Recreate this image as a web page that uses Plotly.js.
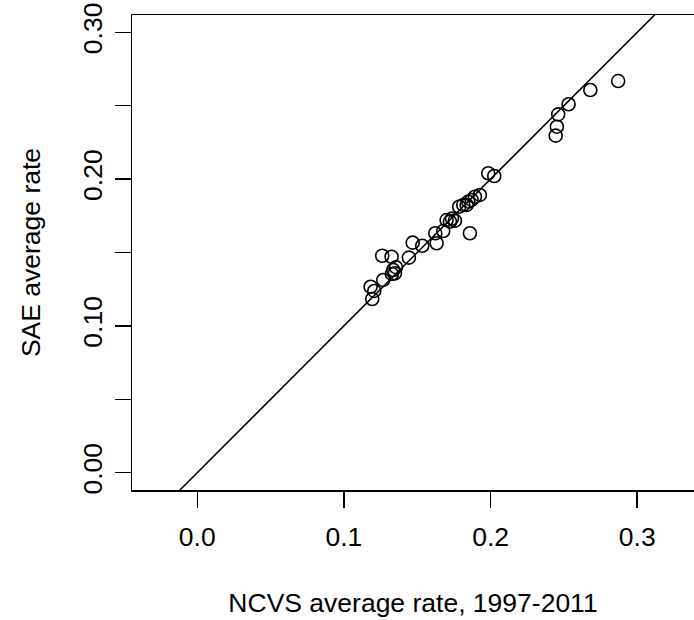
<!DOCTYPE html>
<html>
<head>
<meta charset="utf-8">
<script src="https://cdn.plot.ly/plotly-3.0.1.min.js"></script>
<style>html,body{margin:0;padding:0;background:#fff;}#chart{width:694px;height:620px;}</style>
</head>
<body>
<div id="chart"></div>
<script>
// NCVS average rate (x) vs SAE average rate (y), by area
const ncvsRate = [0.2870, 0.2680, 0.2532, 0.2461, 0.2452, 0.2444, 0.2025, 0.1984, 0.1927, 0.1893,
                  0.1871, 0.1848, 0.1837, 0.1814, 0.1786, 0.1859, 0.1757, 0.1723, 0.1700, 0.1737,
                  0.1677, 0.1623, 0.1632, 0.1534, 0.1469, 0.1443, 0.1325, 0.1261, 0.1336, 0.1348,
                  0.1327, 0.1268, 0.1182, 0.1207, 0.1193, 0.1355];
const saeRate  = [0.2668, 0.2607, 0.2510, 0.2441, 0.2357, 0.2296, 0.2021, 0.2040, 0.1892, 0.1880,
                  0.1858, 0.1846, 0.1824, 0.1824, 0.1812, 0.1631, 0.1717, 0.1710, 0.1721, 0.1731,
                  0.1646, 0.1631, 0.1563, 0.1546, 0.1567, 0.1465, 0.1471, 0.1478, 0.1381, 0.1358,
                  0.1354, 0.1313, 0.1267, 0.1238, 0.1183, 0.1400];
// reference line y = a + b x
const ablineIntercept = 0;
const ablineSlope = 1;
const xTickVals = [0.0, 0.1, 0.2, 0.3];
const xTickText = ["0.0", "0.1", "0.2", "0.3"];
const yTickVals = [0.00, 0.05, 0.10, 0.15, 0.20, 0.25, 0.30];
const yTickText = ["0.00", "", "0.10", "", "0.20", "", "0.30"];

const xRange = [-0.0445, 0.3387];
const yRange = [-0.0118, 0.3118];
const lineX = [xRange[0] - 0.05, xRange[1] + 0.05];
const lineY = lineX.map(v => ablineIntercept + ablineSlope * v);

const font = {family: 'Liberation Sans, Arial, sans-serif', size: 26.5, color: '#000'};

Plotly.newPlot('chart', [
  {x: lineX, y: lineY, mode: 'lines', line: {color: '#000', width: 1.5}, hoverinfo: 'skip'},
  {x: ncvsRate, y: saeRate, mode: 'markers', type: 'scatter',
   marker: {symbol: 'circle-open', size: 13, color: '#000', line: {width: 1.6, color: '#000'}}}
], {
  width: 694, height: 620,
  margin: {l: 132, r: 0, t: 15, b: 130},
  paper_bgcolor: '#fff', plot_bgcolor: '#fff',
  showlegend: false,
  font: font,
  xaxis: {
    range: xRange, showgrid: false, zeroline: false,
    showline: true, linecolor: '#000', linewidth: 1.5, mirror: true,
    ticks: 'outside', ticklen: 16, tickwidth: 1.5, tickcolor: '#000',
    tickvals: xTickVals, ticktext: xTickText, ticklabelstandoff: 7,
    tickfont: font,
    title: {text: 'NCVS average rate, 1997-2011', font: font, standoff: 42}
  },
  yaxis: {
    range: yRange, showgrid: false, zeroline: false,
    showline: true, linecolor: '#000', linewidth: 1.5, mirror: false,
    ticks: 'outside', ticklen: 16, tickwidth: 1.5, tickcolor: '#000',
    tickvals: yTickVals, ticktext: yTickText, tickangle: -90, ticklabelstandoff: 2,
    tickfont: font,
    title: {text: 'SAE average rate', font: font, standoff: 29}
  }
}, {staticPlot: true, displayModeBar: false});
</script>
</body>
</html>
